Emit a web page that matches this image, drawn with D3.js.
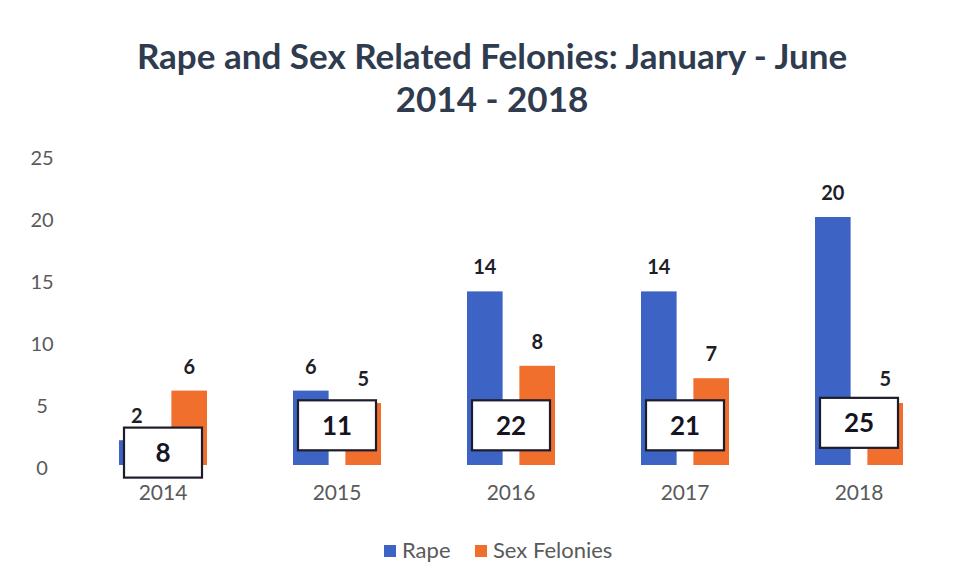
<!DOCTYPE html>
<html>
<head>
<meta charset="utf-8">
<script src="https://cdn.jsdelivr.net/npm/d3@7"></script>
<style>
  html, body { margin: 0; padding: 0; background: #ffffff; }
  svg { display: block; }
</style>
</head>
<body>
<svg id="chart" width="963" height="588"></svg>
<script>
// Data
const years = ["2014", "2015", "2016", "2017", "2018"];
const rape = [2, 6, 14, 14, 20];
const sexFelonies = [6, 5, 8, 7, 5];
const totals = [8, 11, 22, 21, 25];
const yTicks = [0, 5, 10, 15, 20, 25];
const seriesNames = ["Rape", "Sex Felonies"];

// Vertical anchor (in axis units) for each total box
const totalBoxAt = [1.0, 3.2, 3.2, 3.2, 3.4];

const colors = { "Rape": "#3d64c4", "Sex Felonies": "#f06f2c" };
const font = "Lato, 'Open Sans', sans-serif";

const svg = d3.select("#chart");

const x = d3.scaleBand().domain(years).range([76, 946]).paddingInner(0).paddingOuter(0);
const y = d3.scaleLinear().domain([0, 25]).range([465, 155]);
const sub = d3.scaleBand().domain(seriesNames).range([0, 88]).paddingInner(0.32);
const groupOffset = (x.bandwidth() - 88) / 2;

// Title
const title = svg.append("g").attr("font-family", font).attr("font-weight", 700)
  .attr("fill", "#2f3b4e").attr("text-anchor", "middle").attr("font-size", 35);
title.append("text").attr("x", 492).attr("y", 69).text("Rape and Sex Related Felonies: January - June");
title.append("text").attr("x", 492).attr("y", 112).text("2014 - 2018");

// Y axis labels
const yAxis = d3.axisLeft(y).tickValues(yTicks).tickSize(0).tickPadding(0);
const gy = svg.append("g").attr("transform", "translate(42,3)").call(yAxis);
gy.select(".domain").remove();
gy.selectAll("text").attr("font-family", font).attr("font-size", 20).attr("fill", "#5a5a5a")
  .attr("text-anchor", "middle");

// X axis labels
const xAxis = d3.axisBottom(x).tickSize(0).tickPadding(0);
const gx = svg.append("g").attr("transform", "translate(0,485)").call(xAxis);
gx.select(".domain").remove();
gx.selectAll("text").attr("font-family", font).attr("font-size", 21).attr("fill", "#5a5a5a");

// Bars
const rows = years.map((yr, i) => ({ year: yr, i, values: [
  { key: "Rape", value: rape[i] },
  { key: "Sex Felonies", value: sexFelonies[i] }
]}));

const groups = svg.append("g").selectAll("g").data(rows).join("g")
  .attr("transform", d => `translate(${x(d.year) + groupOffset},0)`);

groups.selectAll("rect").data(d => d.values).join("rect")
  .attr("x", d => sub(d.key))
  .attr("width", sub.bandwidth())
  .attr("y", d => y(d.value))
  .attr("height", d => y(0) - y(d.value))
  .attr("fill", d => colors[d.key]);

groups.selectAll("text.val").data(d => d.values).join("text")
  .attr("class", "val")
  .attr("x", d => sub(d.key) + sub.bandwidth() / 2)
  .attr("y", d => y(d.value) - 17)
  .attr("text-anchor", "middle")
  .attr("font-family", font).attr("font-weight", 700).attr("font-size", 20)
  .attr("fill", "#1e1e28")
  .text(d => d.value);

// Total boxes
const boxW = 78, boxH = 50;
const boxes = svg.append("g").selectAll("g").data(rows).join("g")
  .attr("transform", d => `translate(${x(d.year) + x.bandwidth() / 2},${y(totalBoxAt[d.i])})`);
boxes.append("rect")
  .attr("x", -boxW / 2).attr("y", -boxH / 2)
  .attr("width", boxW).attr("height", boxH)
  .attr("fill", "#ffffff").attr("stroke", "#1c1c2a").attr("stroke-width", 2.2);
boxes.append("text")
  .attr("text-anchor", "middle").attr("dy", "0.36em")
  .attr("font-family", font).attr("font-weight", 700).attr("font-size", 26)
  .attr("fill", "#15151f")
  .text(d => totals[d.i]);

// Legend
const legend = svg.append("g").attr("font-family", font).attr("font-size", 22).attr("fill", "#5a5a5a");
const legendItems = [{ key: "Rape", x: 384 }, { key: "Sex Felonies", x: 475 }];
legendItems.forEach(item => {
  legend.append("rect").attr("x", item.x).attr("y", 545).attr("width", 12).attr("height", 12)
    .attr("fill", colors[item.key]);
  legend.append("text").attr("x", item.x + 18).attr("y", 558).text(item.key);
});
</script>
</body>
</html>
